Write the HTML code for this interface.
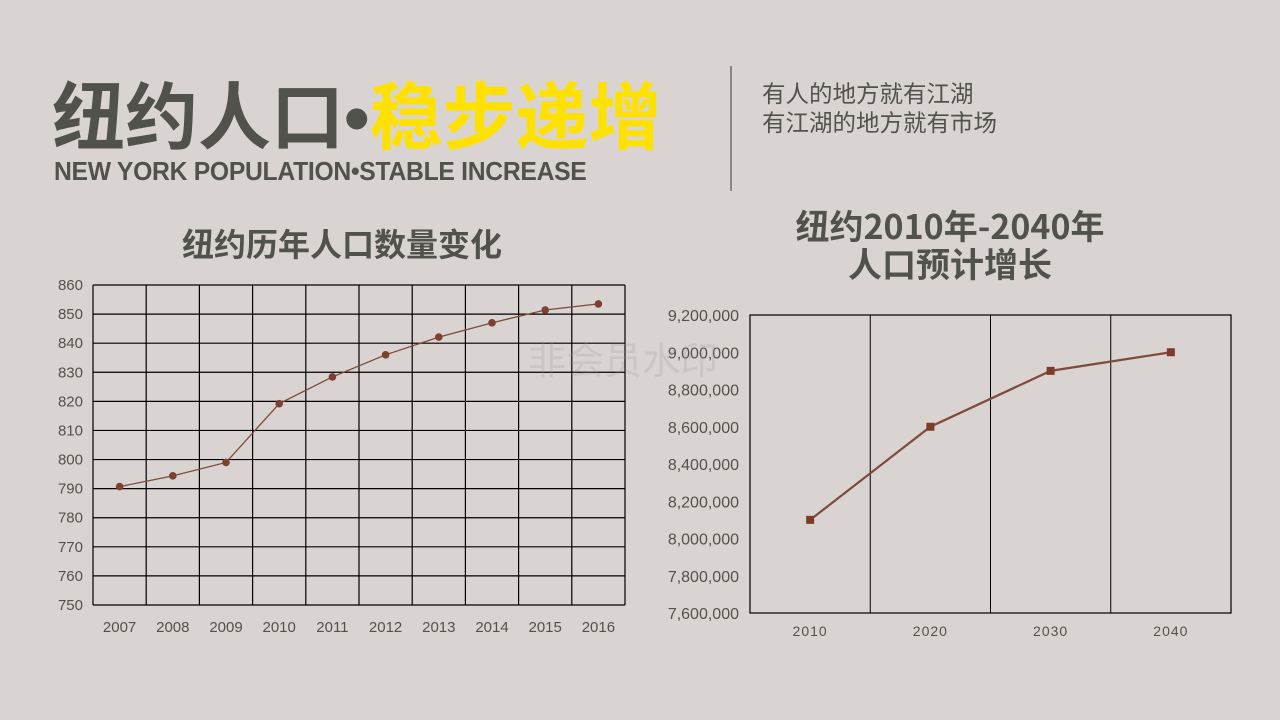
<!DOCTYPE html>
<html><head><meta charset="utf-8"><style>
body{margin:0;width:1280px;height:720px;background:#d9d4d1;overflow:hidden;position:relative;font-family:"Liberation Sans","Noto Sans CJK SC",sans-serif;}
.abs{position:absolute;white-space:nowrap;}
</style></head><body>
<div class="abs" style="left:52px;top:62px;font-size:73px;font-weight:bold;color:#52524c;line-height:100px;letter-spacing:0px;font-family:'Noto Sans CJK SC',sans-serif;">纽约人口<span style="font-family:'Liberation Sans',sans-serif;">•</span><span style="color:#ffe100">稳步递增</span></div>
<div class="abs" style="left:54px;top:154px;font-size:26px;font-weight:bold;color:#52524c;line-height:34px;letter-spacing:-0.3px;transform:scaleX(0.95);transform-origin:0 0;">NEW YORK POPULATION•STABLE INCREASE</div>
<div class="abs" style="left:730px;top:66px;width:2px;height:125px;background:#8a8683;"></div>
<div class="abs" style="left:762px;top:78px;font-size:23.5px;color:#52524c;line-height:29px;font-family:'Noto Sans CJK SC',sans-serif;">有人的地方就有江湖<br>有江湖的地方就有市场</div>
<div class="abs" style="left:182px;top:221px;font-size:32px;font-weight:bold;color:#52524c;line-height:44px;font-family:'Noto Sans CJK SC',sans-serif;">纽约历年人口数量变化</div>
<div class="abs" style="left:750px;top:206px;width:400px;text-align:center;font-size:34px;font-weight:bold;color:#52524c;line-height:38px;font-family:'Noto Sans CJK SC',sans-serif;">纽约2010年-2040年<br>人口预计增长</div>
<svg id="c" width="1280" height="720" style="position:absolute;left:0;top:0"></svg>
<div class="abs" style="left:528px;top:330px;font-size:38px;color:rgba(150,150,150,0.22);font-family:'Noto Sans CJK SC',sans-serif;">非会员水印</div>
<script>
const years=["2007","2008","2009","2010","2011","2012","2013","2014","2015","2016"];
const popValues=[790.7,794.4,799,819.2,828.4,836,842.1,847,851.4,853.5];
const leftTicks=[750,760,770,780,790,800,810,820,830,840,850,860];
const decades=["2010","2020","2030","2040"];
const projValues=[8100000,8600000,8900000,9000000];
const rightTicks=[7600000,7800000,8000000,8200000,8400000,8600000,8800000,9000000,9200000];
const svg=document.getElementById('c');const NS='http://www.w3.org/2000/svg';
function mk(t,a,name){const e=document.createElementNS(NS,t);for(const k in a)e.setAttribute(k,a[k]);


svg.appendChild(e);return e;}
const L={x0:93,x1:625,y0:605,y1:285,min:750,max:860};
const lx=i=>L.x0+(i+0.5)*(L.x1-L.x0)/years.length;
const ly=v=>L.y0-(v-L.min)/(L.max-L.min)*(L.y0-L.y1);
leftTicks.forEach(t=>{mk('line',{x1:L.x0,x2:L.x1,y1:ly(t),y2:ly(t),stroke:'#000','stroke-width':1.2},'left-gridline');
const tx=mk('text',{x:83,y:ly(t)+5,'text-anchor':'end','font-size':15,fill:'#52524c'},'left-y-tick');tx.textContent=t;});
for(let i=0;i<=years.length;i++){const x=L.x0+i*(L.x1-L.x0)/years.length;mk('line',{x1:x,x2:x,y1:L.y1,y2:L.y0,stroke:'#000','stroke-width':1.2},'left-vgrid');}
years.forEach((y,i)=>{const tx=mk('text',{x:lx(i),y:632,'text-anchor':'middle','font-size':15,fill:'#52524c'},'left-x-tick');tx.textContent=y;});
mk('polyline',{points:popValues.map((v,i)=>lx(i)+','+ly(v)).join(' '),fill:'none',stroke:'#7e4a3a','stroke-width':1.3},'population-line');
popValues.forEach((v,i)=>mk('circle',{cx:lx(i),cy:ly(v),r:3.8,fill:'#7e4030'},'population-point'));
const R={x0:750,x1:1231,y0:613,y1:315,min:7600000,max:9200000};
const rx=i=>R.x0+(i+0.5)*(R.x1-R.x0)/decades.length;
const ry=v=>R.y0-(v-R.min)/(R.max-R.min)*(R.y0-R.y1);
mk('rect',{x:R.x0,y:R.y1,width:R.x1-R.x0,height:R.y0-R.y1,fill:'none',stroke:'#000','stroke-width':1.2},'right-plot-border');
for(let i=1;i<decades.length;i++){const x=R.x0+i*(R.x1-R.x0)/decades.length;mk('line',{x1:x,x2:x,y1:R.y1,y2:R.y0,stroke:'#000','stroke-width':1},'right-vgrid');}
rightTicks.forEach(t=>{const tx=mk('text',{x:739,y:ry(t)+6,'text-anchor':'end','font-size':16,fill:'#52524c'},'right-y-tick');tx.textContent=t.toLocaleString('en-US');});
decades.forEach((d,i)=>{const tx=mk('text',{x:rx(i),y:636,'text-anchor':'middle','font-size':14,fill:'#52524c','letter-spacing':1},'right-x-tick');tx.textContent=d;});
mk('polyline',{points:projValues.map((v,i)=>rx(i)+','+ry(v)).join(' '),fill:'none',stroke:'#7e4a3a','stroke-width':2.2},'projection-line');
projValues.forEach((v,i)=>mk('rect',{x:rx(i)-4,y:ry(v)-4,width:8,height:8,fill:'#7e3a2a'},'projection-point'));
</script>
</body></html>
